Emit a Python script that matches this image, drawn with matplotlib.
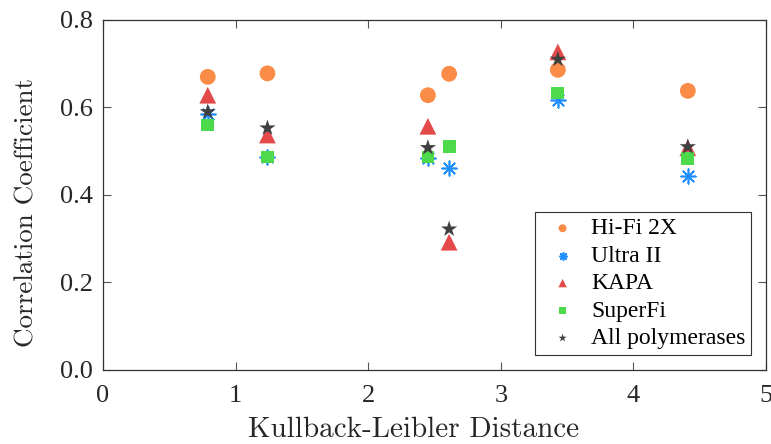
import matplotlib
matplotlib.use("Agg")
import matplotlib.pyplot as plt
import numpy as np

# KL distance for each sample
kl_distance = [0.79, 1.24, 2.45, 2.61, 3.43, 4.41]

hifi = [0.670, 0.678, 0.628, 0.677, 0.686, 0.638]
ultra = [0.585, 0.487, 0.485, 0.462, 0.617, 0.444]
kapa = [0.628, 0.537, 0.557, 0.292, 0.727, 0.508]
superfi = [0.560, 0.487, 0.487, 0.510, 0.633, 0.483]
all_pol = [0.590, 0.553, 0.508, 0.322, 0.710, 0.510]

series_names = ["Hi-Fi 2X", "Ultra II", "KAPA", "SuperFi", "All polymerases"]

plt.rcParams['font.family'] = ['Liberation Serif', 'DejaVu Serif']
plt.rcParams['mathtext.fontset'] = 'cm'

fig = plt.figure(figsize=(7.71, 4.44), dpi=100)
ax = fig.add_axes([0.1336, 0.1667, 0.86, 0.7883])

ax.scatter(kl_distance, hifi, s=130, marker='o', color='#FA8C48', edgecolors='none', label=series_names[0])
ax.scatter(kl_distance, ultra, s=110, marker=(8, 2, 0), color='#1E8FFF', linewidths=1.2, label=series_names[1])
ax.scatter(kl_distance, kapa, s=145, marker='^', color='#E44A4A', edgecolors='none', label=series_names[2])
ax.scatter(kl_distance, superfi, s=85, marker='s', color='#4CD94C', edgecolors='none', label=series_names[3])
ax.scatter(kl_distance, all_pol, s=150, marker='*', color='#404040', edgecolors='none', label=series_names[4])

ax.set_xlim(0, 5)
ax.set_ylim(0, 0.8)
ax.set_xticks(np.arange(0, 6, 1))
ax.set_yticks(np.arange(0, 0.81, 0.2))
ax.set_xticklabels([str(v) for v in range(6)])
ax.set_yticklabels(["0.0", "0.2", "0.4", "0.6", "0.8"])

ax.tick_params(direction='in', top=True, right=True, labelsize=19, length=6, color='#555555',
               labelcolor='#262626', width=0.8)
ax.tick_params(axis='x', pad=11)
ax.tick_params(axis='y', pad=7)
for sp in ax.spines.values():
    sp.set_color('#333333')
    sp.set_linewidth(0.9)

ax.set_xlabel('Kullback-Leibler Distance', fontsize=21, family='cmr10', color='#262626')
ax.set_ylabel('Correlation Coefficient', fontsize=19.5, family='cmr10', color='#262626')
ax.xaxis.set_label_coords(0.468, -0.134)
ax.yaxis.set_label_coords(-0.097, 0.451)

leg = ax.legend(loc='lower right', fontsize=17, markerscale=0.5, fancybox=False, framealpha=1,
                edgecolor='#333333', borderaxespad=0.63, handletextpad=0.3, labelspacing=0.25,
                borderpad=0.25, handlelength=1.8)
leg.get_frame().set_linewidth(0.8)

fig.savefig('out.png', dpi=100)
